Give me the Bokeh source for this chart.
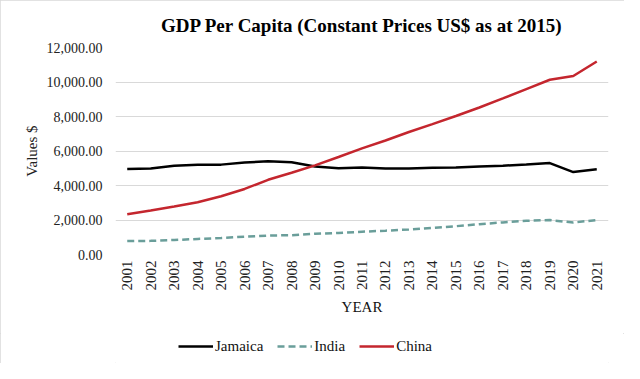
from bokeh.plotting import figure
from bokeh.layouts import column
from bokeh.models import ColumnDataSource, Legend, LegendItem, NumeralTickFormatter, FixedTicker
from bokeh.embed import file_html
from bokeh.resources import INLINE

years = ["2001", "2002", "2003", "2004", "2005", "2006", "2007", "2008", "2009", "2010", "2011",
         "2012", "2013", "2014", "2015", "2016", "2017", "2018", "2019", "2020", "2021"]
jamaica = [4950, 4990, 5150, 5200, 5210, 5330, 5400, 5350, 5100, 5000, 5040,
           4980, 4990, 5030, 5040, 5100, 5150, 5220, 5300, 4780, 4940]
india = [780, 790, 840, 900, 960, 1030, 1100, 1120, 1200, 1250, 1320,
         1380, 1450, 1540, 1640, 1760, 1860, 1950, 2000, 1850, 2000]
china = [2330, 2550, 2780, 3030, 3380, 3800, 4330, 4740, 5170, 5650, 6150,
         6610, 7100, 7560, 8030, 8520, 9050, 9590, 10130, 10350, 11190]
series_names = ["Jamaica", "India", "China"]

FONT = "Liberation Serif"
COLORS = ["#000000", "#6a9e9a", "#c4262e"]
DASHES = ["solid", "7 4", "solid"]

src = ColumnDataSource(dict(year=years, jamaica=jamaica, india=india, china=china))

p = figure(x_range=years, y_range=(0, 12000), width=624, height=333,
           output_backend="svg", toolbar_location=None,
           min_border_left=115, min_border_right=16, min_border_top=47, min_border_bottom=79)

p.title.text = "GDP Per Capita (Constant Prices US$ as at 2015)"
p.title.align = "center"
p.title.text_font = FONT
p.title.text_font_size = "19px"
p.title.text_font_style = "bold"
p.title.text_color = "#000000"
p.title.standoff = 24

for col, c, d in zip(["jamaica", "india", "china"], COLORS, DASHES):
    p.line("year", col, source=src, line_color=c, line_width=2.5, line_dash=d)

p.outline_line_color = None
p.border_fill_color = "white"
p.xgrid.grid_line_color = None
p.ygrid.grid_line_color = "#d9d9d9"
p.ygrid.grid_line_width = 1

p.yaxis.ticker = FixedTicker(ticks=[0, 2000, 4000, 6000, 8000, 10000, 12000])
p.yaxis.formatter = NumeralTickFormatter(format="0,0.00")
p.yaxis.axis_line_color = None
p.yaxis.major_tick_line_color = None
p.yaxis.minor_tick_line_color = None
p.yaxis.major_tick_out = 0
p.yaxis.minor_tick_out = 0
p.yaxis.major_label_text_font = FONT
p.yaxis.major_label_text_font_size = "14px"
p.yaxis.major_label_text_color = "#222222"
p.yaxis.major_label_standoff = 13
p.yaxis.axis_label = "Values $"
p.yaxis.axis_label_text_font = FONT
p.yaxis.axis_label_text_font_size = "15px"
p.yaxis.axis_label_text_font_style = "normal"
p.yaxis.axis_label_text_color = "#222222"
p.yaxis.axis_label_standoff = 4

p.xaxis.axis_line_color = None
p.xaxis.major_tick_line_color = None
p.xaxis.minor_tick_line_color = None
p.xaxis.major_tick_out = 0
p.xaxis.minor_tick_out = 0
p.xaxis.major_label_orientation = 1.5708
p.xaxis.major_label_text_font = FONT
p.xaxis.major_label_text_font_size = "15px"
p.xaxis.major_label_text_color = "#222222"
p.xaxis.major_label_standoff = 6
p.xaxis.axis_label = "YEAR"
p.xaxis.axis_label_text_font = FONT
p.xaxis.axis_label_text_font_size = "15px"
p.xaxis.axis_label_text_font_style = "normal"
p.xaxis.axis_label_text_color = "#111111"
p.xaxis.axis_label_standoff = 6
p.x_range.range_padding = 0

# legend strip below the chart (legend-only renderers placed outside the visible range)
lg = figure(width=624, height=30, output_backend="svg", toolbar_location=None,
            x_range=(0, 1), y_range=(0, 1), min_border=0)
lg.axis.visible = False
lg.grid.visible = False
lg.outline_line_color = None
items = []
for name, c, d in zip(series_names, COLORS, DASHES):
    r = lg.line([-5, -4], [-5, -5], line_color=c, line_width=2.5, line_dash=d)
    items.append(LegendItem(label=name, renderers=[r]))
legend = Legend(items=items, orientation="horizontal", location=(63, 7),
                label_text_font=FONT, label_text_font_size="15px", label_text_color="#111111",
                border_line_color=None, background_fill_alpha=0,
                glyph_width=35, spacing=14, label_standoff=2, margin=0, padding=0)
lg.add_layout(legend, "center")

layout = column(p, lg, spacing=0)
layout.styles = {"outline": "1px solid #d9d9d9", "outline-offset": "-1px"}

open("out.html", "w").write(file_html(layout, INLINE))
